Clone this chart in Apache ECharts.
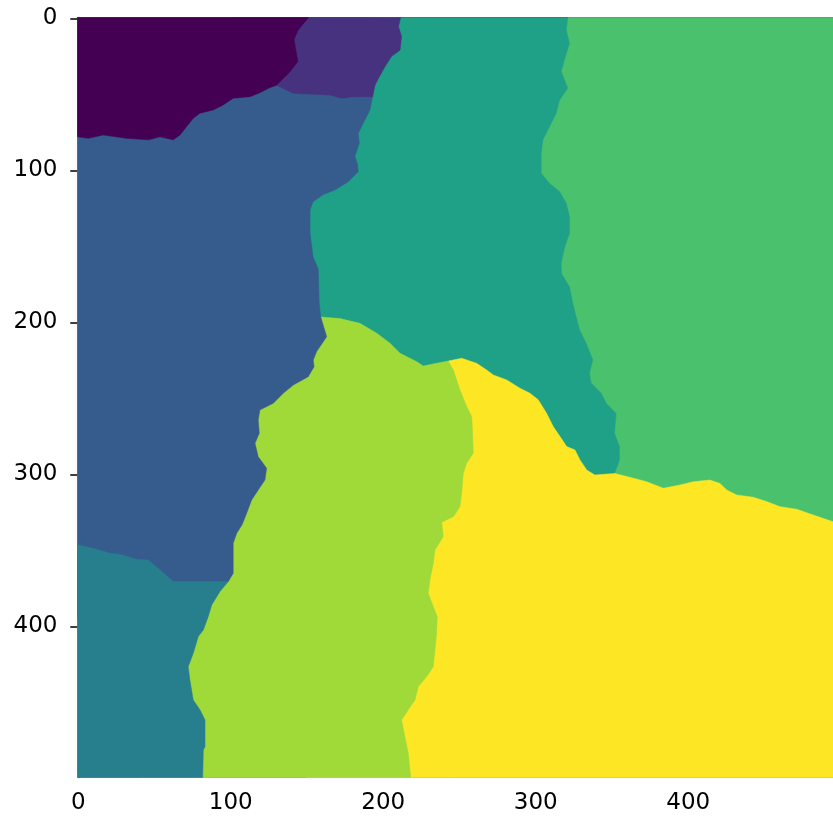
<!DOCTYPE html>
<html>
<head>
<meta charset="utf-8">
<script src="https://cdn.jsdelivr.net/npm/echarts@6/dist/echarts.min.js"></script>
<style>
  html, body { margin: 0; padding: 0; background: #fff; }
  #main { width: 833px; height: 825px; }
</style>
</head>
<body>
<div id="main"></div>
<script>
// tick labels
const tickValues = [0, 100, 200, 300, 400];
// viridis, 8 labels
const labelColors = ['#440154', '#46327e', '#365c8d', '#277f8e', '#1fa187', '#4ac16d', '#a0da39', '#fde725'];

const S = -0.5, E = 499.5; // image extent

// region borders, in pixel (data) units
const bTealGreen = [[321.3,S],[320.3,7.7],[322.4,16.5],[319.1,27.4],[317,35.1],[321.3,46],[315.9,53.8],[313.7,62.5],[309.3,71.3],[305,80],[303.9,88.8],[303.9,102],[309.3,108.6],[315.9,114],[320.3,121.7],[322.4,130.5],[322.4,141.4],[319.1,151.3],[317,161],[317.2,168],[322.4,176.7],[324.6,187.5],[326.8,196.5],[329,205],[333.4,213.9],[337.7,224.8],[335.5,233.6],[336.6,240],[343.2,246.7],[346.5,253.3],[353,260],[351.9,273],[355.2,281.8],[355.2,290.6],[352,299.5]];
const bTealYellow = [[242.6,225.5],[251.4,223.7],[261.2,227],[267.8,231.4],[272.2,234.7],[281,238],[289.6,243.4],[296.2,246.7],[301.6,251],[307.1,259.9],[311.5,268.7],[315.9,275.2],[320.3,281.8],[325.7,284],[329,290.6],[333.4,297.2],[338.8,300.5],[345,300],[352,299.5]];
const bGreenYellow = [[352,299.5],[364,302.6],[372.7,304.9],[383.6,309.2],[394.6,307],[403.3,304.9],[414.2,303.8],[420.8,306],[425.2,310.3],[431.7,313.6],[442.6,315.1],[451.4,318],[460.1,321.3],[471.1,323],[482,326.8],[494.9,331.2],[E,333]];
const bYgYellow = [[242.6,225.5],[246,231.4],[250.3,244.5],[254.7,255.5],[258,262],[258.6,273],[259,286.2],[254.7,292.8],[252.5,299.3],[251.4,312.5],[250.3,321.3],[246,327.9],[238.3,331.5],[239.4,341],[233.9,349.8],[232.8,358.6],[230.6,369.5],[229.5,378.3],[232.8,387],[235.4,393.7],[235,404.6],[233.9,415.6],[232.8,426.6],[228.4,433.2],[223,439.7],[220.8,448.5],[216.4,455],[212,461.6],[214.2,472.6],[216.4,483.6],[218,E]];
const bTealYg = [[159,196.5],[171.6,197.6],[184.7,200.7],[195.7,207.2],[204.4,213.8],[211,220.4],[222,226],[226.2,228.8],[235,227],[242.6,225.5]];
const bBlueTeal = [[193,51.6],[191.3,60.3],[186.9,69],[183.6,75.7],[184.3,82.2],[181.4,91],[183,95.4],[183.6,101],[177,107.5],[168.3,113],[160.7,116],[154,120.7],[152,126],[152,141.5],[154,157],[157.4,165],[158,187.5],[159,196.5]];
const bBlueYg = [[159,196.5],[162.9,209.5],[156.3,219.3],[154.1,224.8],[154.6,229.2],[150.8,235.8],[141,241.3],[134.4,246.7],[127.9,253.3],[119.1,257.7],[118,264.3],[118.7,273],[115.9,279.6],[118,288.4],[123.5,296],[122.4,303.8],[118,310.3],[113.7,316.9],[110.4,325.7],[107.5,333],[103.9,338.8],[101.6,345.4],[101.6,365.1],[98.4,370.6]];
const bBlueDt = [[98.4,370.6],[62.3,370.6],[53.6,363],[45.9,356.4],[38.3,356],[28.5,353],[20.8,352],[9.8,348.7],[S,346.5]];
const bDtYg = [[98.4,370.6],[92.9,377.2],[87.5,386],[85.2,393.7],[82,402.4],[78.7,406.8],[75.4,417.8],[72.1,426.6],[73.2,435.3],[75.4,448.5],[79.8,455],[83.1,461.6],[83.1,479.2],[82,481.4],[81.6,E]];
const bPurpleTeal = [[211.4,S],[210,5.5],[212,12],[211,21],[205.5,25],[201,32],[196.9,39.5],[194.6,44],[193,51.6]];
const bPurpleBlue = [[130,44],[141,49.4],[165,50.5],[172.7,52.6],[180.3,51.6],[193,51.6]];
const bDpPurple = [[151,S],[144,8],[141.5,14],[144,28.5],[139,35],[130,44]];
const bDpBlue = [[130,44],[124.8,46],[119,49],[112.6,51.6],[101.6,52.6],[95,57],[88.5,60.3],[79.8,62.5],[75.4,65.8],[71,71.3],[66.7,76.8],[62.3,80],[53.6,78],[46,80],[31.7,79],[16.4,76.8],[6.6,79],[S,78]];

const rev = a => a.slice().reverse();

// painted in order, later ones cover earlier ones
const regionLabels = [4, 5, 7, 6, 2, 3, 1, 0];
const regionShapes = [
  [[S,S],[E,S],[E,E],[S,E]],
  [[E,S]].concat(bTealGreen, [[E,E]]),
  bTealYellow.concat(bGreenYellow, [[E,E],[150,E]]),
  bTealYg.concat(bYgYellow, [[40,E],[40,260]]),
  [[S,S],[193,S]].concat(bBlueTeal, bBlueYg, [[S,395]]),
  bBlueDt.concat([[S,E]], rev(bDtYg)),
  [[100,S]].concat(bPurpleTeal, rev(bPurpleBlue)),
  [[S,S]].concat(bDpPurple, bDpBlue)
];

const chart = echarts.init(document.getElementById('main'));

const axisFont = { fontFamily: 'DejaVu Sans', fontSize: 23, color: '#000' };
const spine = { show: true, lineStyle: { color: '#000', width: 1.5 } };

chart.setOption({
  animation: false,
  grid: { left: 77.5, top: 17.5, width: 762.5, height: 760, outerBoundsMode: 'none', containLabel: false },
  xAxis: [{
    type: 'value', min: S, max: E, position: 'bottom',
    axisLine: spine,
    axisTick: { show: true, length: 8, lineStyle: { color: '#000', width: 1.5 }, customValues: tickValues },
    axisLabel: Object.assign({ margin: 14, customValues: tickValues }, axisFont),
    splitLine: { show: false }
  }, {
    type: 'value', min: S, max: E, position: 'top',
    axisLine: spine, axisTick: { show: false }, axisLabel: { show: false }, splitLine: { show: false }
  }],
  yAxis: {
    type: 'value', min: S, max: E, inverse: true,
    axisLine: spine,
    axisTick: { show: true, length: 8, lineStyle: { color: '#000', width: 1.5 }, customValues: tickValues },
    axisLabel: Object.assign({ margin: 20, customValues: tickValues }, axisFont),
    splitLine: { show: false }
  },
  series: [{
    type: 'custom',
    xAxisIndex: 0,
    data: regionShapes.map((s, i) => [i]),
    renderItem: function (params, api) {
      const i = api.value(0);
      const pts = regionShapes[i].map(p => api.coord(p));
      return {
        type: 'polygon',
        shape: { points: pts },
        style: { fill: labelColors[regionLabels[i]], stroke: labelColors[regionLabels[i]], lineWidth: 0.5 }
      };
    }
  }]
});
</script>
</body>
</html>
